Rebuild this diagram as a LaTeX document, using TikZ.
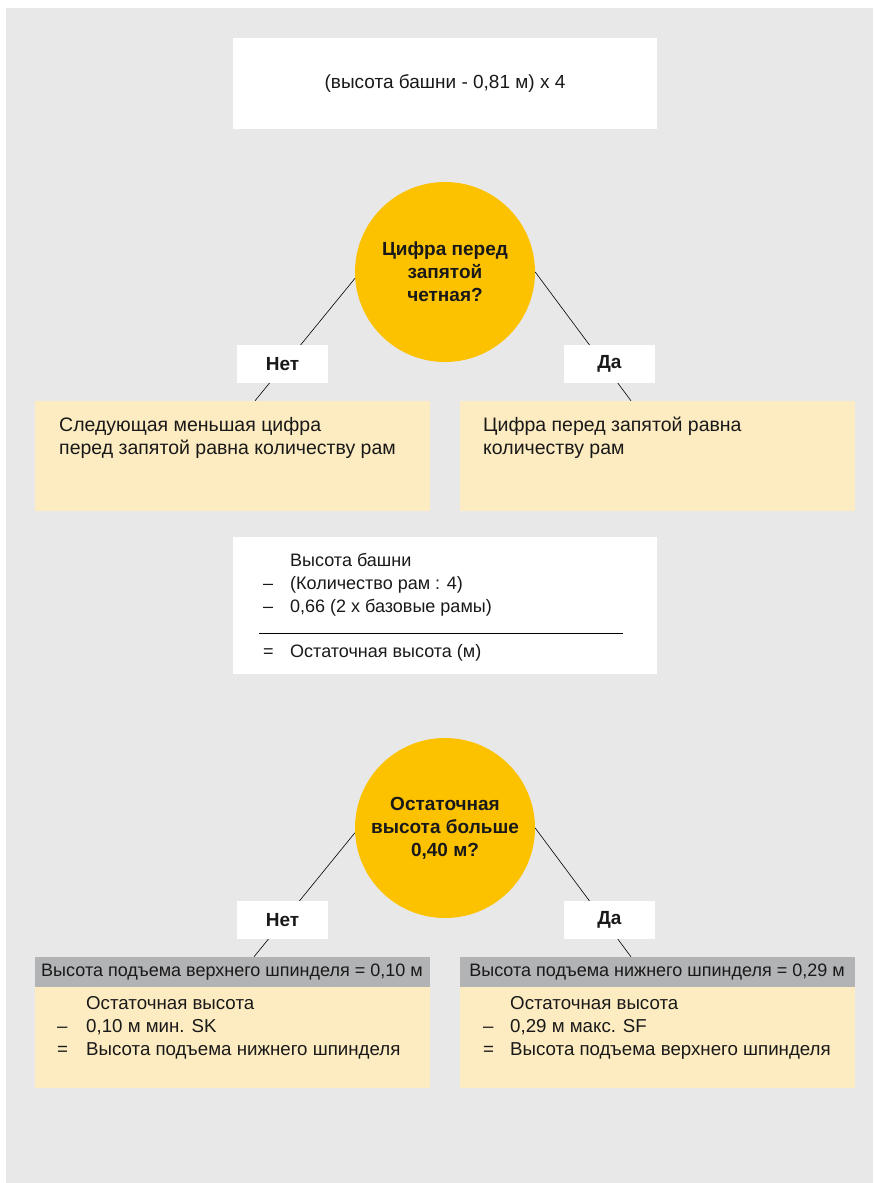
\documentclass[tikz,border=0pt]{standalone}
\usepackage{fontspec}
\setmainfont{Liberation Sans}
\usetikzlibrary{positioning}
\tikzset{>=latex}
\definecolor{bggray}{RGB}{232, 232, 232}
\definecolor{myyellow}{RGB}{252, 194, 0}
\definecolor{mycream}{RGB}{253, 236, 193}
\definecolor{headgray}{RGB}{178, 179, 181}
\definecolor{ink}{RGB}{25, 25, 25}

\begin{document}
\begin{tikzpicture}[x=1pt, y=-1pt, text=ink, font=\fontsize{18}{23}\selectfont,
  whitebox/.style={fill=white, inner sep=0pt},
  question/.style={circle, fill=myyellow, minimum size=180pt, inner sep=0pt, align=center,
    font=\fontsize{19}{23}\selectfont\bfseries},
  answer/.style={fill=white, minimum width=91pt, minimum height=38pt, inner sep=0pt,
    font=\fontsize{19}{23}\selectfont\bfseries},
  result/.style={fill=mycream, minimum width=395pt, inner sep=0pt},
  header/.style={fill=headgray, minimum width=395pt, minimum height=30pt, inner sep=0pt},
  txt/.style={anchor=base west, inner sep=0pt}]
\useasboundingbox (0, 0) rectangle (874, 1183);
\fill[bggray] (6, 8) rectangle (873, 1183);

% formula
\node[whitebox, minimum width=424pt, minimum height=91pt, font=\fontsize{19}{23}\selectfont] (formula) at (445, 83.5) {(высота башни - 0,81 м) x 4};

% first question
\node[question] (q1) at (445, 272) {Цифра перед\\запятой\\четная?};
\node[result, minimum height=110pt] (no1) at (232, 456) {};
\node[result, minimum height=110pt] (yes1) at (657, 456) {};
\draw[line width=0.6pt] (q1.184) -- ([xshift=23pt]no1.north);
\draw[line width=0.6pt] (q1.east) -- ([xshift=-26pt]yes1.north);
\node[answer] (nolab1) at (282.5, 364) {Нет};
\node[answer] (yeslab1) at (609.5, 364) {Да};
\node[txt, align=left, font=\fontsize{19.5}{23}\selectfont] (notext1) at (59, 454.5) {Следующая меньшая цифра\\перед запятой равна количеству рам};
\node[txt, align=left, font=\fontsize{19.5}{23}\selectfont] (yestext1) at (483, 454.5) {Цифра перед запятой равна\\количеству рам};

% remaining height
\node[whitebox, minimum width=424pt, minimum height=137pt] (calc) at (445, 605.5) {};
\node[txt] (calctext) at (263, 566.5) {\begin{tabular}[t]{@{}p{27pt}@{}l@{}}
  & Высота башни\\
  – & (Количество рам : 4)\\
  – & 0,66 (2 x базовые рамы)
\end{tabular}};
\draw[line width=0.6pt] (259, 633) -- (623, 633);
\node[txt] (calcsum) at (263, 657.5) {\makebox[27pt][l]{=}Остаточная высота (м)};

% second question
\node[question] (q2) at (445, 828) {Остаточная\\высота больше\\0,40 м?};
\node[header] (nohead) at (232, 972) {Высота подъема верхнего шпинделя = 0,10 м};
\node[header] (yeshead) at (657, 972) {Высота подъема нижнего шпинделя = 0,29 м};
\node[result, minimum height=101pt, below=0pt of nohead] (no2) {};
\node[result, minimum height=101pt, below=0pt of yeshead] (yes2) {};
\draw[line width=0.6pt] (q2.183) -- ([xshift=22pt]nohead.north);
\draw[line width=0.6pt] (q2.east) -- ([xshift=-26pt]yeshead.north);
\node[answer] (nolab2) at (282.5, 920) {Нет};
\node[answer] (yeslab2) at (609.5, 920) {Да};
\node[txt, font=\fontsize{18.7}{23}\selectfont] (notext2) at (57, 1009.5) {\begin{tabular}[t]{@{}p{29pt}@{}l@{}}
  & Остаточная высота\\
  – & 0,10 м мин. SK\\
  = & Высота подъема нижнего шпинделя
\end{tabular}};
\node[txt, font=\fontsize{18.7}{23}\selectfont] (yestext2) at (483, 1009.5) {\begin{tabular}[t]{@{}p{27pt}@{}l@{}}
  & Остаточная высота\\
  – & 0,29 м макс. SF\\
  = & Высота подъема верхнего шпинделя
\end{tabular}};
\end{tikzpicture}
\end{document}
